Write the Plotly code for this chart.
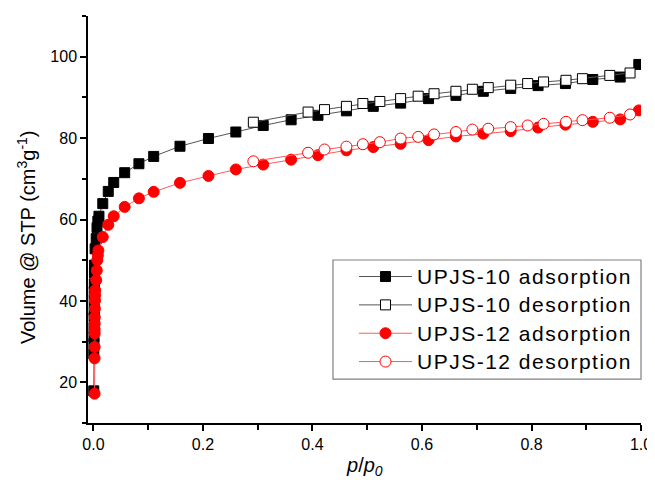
import plotly.graph_objects as go

# UPJS-10 adsorption
p10_ads = [0.0005, 0.0006, 0.0008, 0.0009, 0.001, 0.0011, 0.0012, 0.0013, 0.0014, 0.0016, 0.0018, 0.002,
           0.003, 0.005, 0.0065, 0.008, 0.010, 0.017, 0.027, 0.037, 0.057, 0.083, 0.11, 0.158, 0.21, 0.26,
           0.31, 0.361, 0.41, 0.462, 0.511, 0.561, 0.612, 0.662, 0.712, 0.762, 0.812, 0.862, 0.912, 0.962, 0.996]
v10_ads = [17.9, 27.0, 29.5, 31.2, 33.4, 35.9, 37.6, 40.1, 42.3, 44.2, 46.9, 48.8,
           52.8, 55.3, 58.0, 59.6, 60.8, 63.9, 66.9, 69.1, 71.5, 73.7, 75.5, 78.0, 79.9, 81.5,
           83.1, 84.5, 85.6, 86.7, 87.8, 88.6, 89.7, 90.5, 91.5, 92.2, 92.9, 93.4, 94.4, 95.0, 98.1]

# UPJS-10 desorption
p10_des = [0.98, 0.943, 0.893, 0.863, 0.822, 0.793, 0.762, 0.721, 0.692, 0.662, 0.622, 0.593,
           0.561, 0.523, 0.492, 0.462, 0.422, 0.392, 0.292]
v10_des = [96.0, 95.4, 94.6, 94.2, 93.8, 93.4, 93.0, 92.4, 92.0, 91.5, 90.9, 90.3,
           89.7, 89.0, 88.5, 87.8, 87.0, 86.4, 83.9]

# UPJS-12 adsorption
p12_ads = [0.0020, 0.0020, 0.0021, 0.0022, 0.0022, 0.0023, 0.0024, 0.0026, 0.0028, 0.0030, 0.0032, 0.005,
           0.006, 0.007, 0.008, 0.009, 0.017, 0.027, 0.037, 0.057, 0.083, 0.11, 0.158, 0.21, 0.26,
           0.31, 0.361, 0.41, 0.462, 0.511, 0.561, 0.612, 0.662, 0.712, 0.762, 0.812, 0.862, 0.912, 0.962, 0.996]
v12_ads = [17.2, 25.9, 28.7, 32.0, 33.0, 34.4, 36.0, 38.1, 40.1, 41.4, 42.6, 45.1,
           47.5, 50.0, 51.2, 52.4, 55.7, 58.7, 60.8, 63.1, 65.2, 66.8, 69.0, 70.7, 72.3,
           73.5, 74.7, 75.8, 77.0, 77.8, 78.6, 79.5, 80.4, 81.1, 81.7, 82.6, 83.3, 84.0, 84.6, 86.8]

# UPJS-12 desorption
p12_des = [0.98, 0.943, 0.893, 0.863, 0.822, 0.793, 0.762, 0.721, 0.692, 0.662, 0.622, 0.593,
           0.561, 0.523, 0.492, 0.462, 0.422, 0.392, 0.292]
v12_des = [85.8, 85.0, 84.4, 84.0, 83.5, 83.1, 82.7, 82.3, 82.1, 81.5, 80.9, 80.3,
           79.9, 79.0, 78.5, 77.9, 77.2, 76.4, 74.3]

series_names = ["UPJS-10 adsorption", "UPJS-10 desorption", "UPJS-12 adsorption", "UPJS-12 desorption"]
x_title = "<i>p</i>/<i>p</i><sub><i>0</i></sub>"
y_title = "Volume @ STP (cm<sup>3</sup>g<sup>-1</sup>)"

FONT = "Liberation Sans, Arial, sans-serif"


def legend_label(s):
    return '<span style="font-size:21px;letter-spacing:1.5px">' + s + '</span>'


fig = go.Figure()
fig.add_trace(go.Scatter(
    x=p10_ads, y=v10_ads, mode="lines+markers", name=legend_label(series_names[0]),
    line=dict(color="#555555", width=1),
    marker=dict(symbol="square", size=10, color="black", line=dict(color="black", width=1))))
fig.add_trace(go.Scatter(
    x=p10_des, y=v10_des, mode="lines+markers", name=legend_label(series_names[1]),
    line=dict(color="#555555", width=1),
    marker=dict(symbol="square", size=10, color="white", line=dict(color="black", width=1))))
fig.add_trace(go.Scatter(
    x=p12_ads, y=v12_ads, mode="lines+markers", name=legend_label(series_names[2]),
    line=dict(color="#ff5a5a", width=1),
    marker=dict(symbol="circle", size=11, color="#ff0000", line=dict(color="#ff0000", width=1))))
fig.add_trace(go.Scatter(
    x=p12_des, y=v12_des, mode="lines+markers", name=legend_label(series_names[3]),
    line=dict(color="#ff5a5a", width=1),
    marker=dict(symbol="circle", size=11, color="white", line=dict(color="#ff0000", width=1))))

axis_common = dict(
    showline=True, linecolor="black", linewidth=1.5, mirror=False,
    showgrid=False, zeroline=False, automargin=False,
    ticks="outside", ticklen=6, tickwidth=1.5, tickcolor="black",
    tickfont=dict(family=FONT, size=16, color="black"),
)

fig.update_xaxes(
    range=[-0.01, 1.0], tick0=0, dtick=0.2, tickformat=".1f",
    minor=dict(dtick=0.1, ticks="outside", ticklen=5, tickwidth=1.5, tickcolor="black"),
    **axis_common)
fig.update_yaxes(
    range=[10, 110], tick0=20, dtick=20,
    minor=dict(dtick=10, ticks="outside", ticklen=4, tickwidth=1.5, tickcolor="black"),
    **axis_common)

fig.add_annotation(text=x_title, xref="paper", yref="paper", x=0.5, y=-0.106,
                   xanchor="center", yanchor="middle", showarrow=False,
                   font=dict(family=FONT, size=20, color="black"))
fig.add_annotation(text=y_title, xref="paper", yref="paper", x=-0.112, y=0.457,
                   xanchor="center", yanchor="middle", showarrow=False, textangle=-90,
                   font=dict(family=FONT, size=20, color="black"))

# legend frame
fig.add_shape(type="rect", xref="paper", yref="paper", x0=0.443, x1=1.0, y0=0.108, y1=0.4005,
              line=dict(color="#808080", width=1.2), fillcolor="white", layer="below")

fig.update_layout(
    width=647, height=480,
    margin=dict(l=80, r=14, t=8, b=65),
    plot_bgcolor="white", paper_bgcolor="white",
    font=dict(family=FONT, color="black"),
    legend=dict(x=0.481, xanchor="left", y=0.407, yanchor="top",
                borderwidth=0, bgcolor="rgba(0,0,0,0)",
                font=dict(family=FONT, size=19.5, color="black"),
                itemwidth=53, tracegroupgap=0),
    showlegend=True,
)

fig.write_html("out.html")
